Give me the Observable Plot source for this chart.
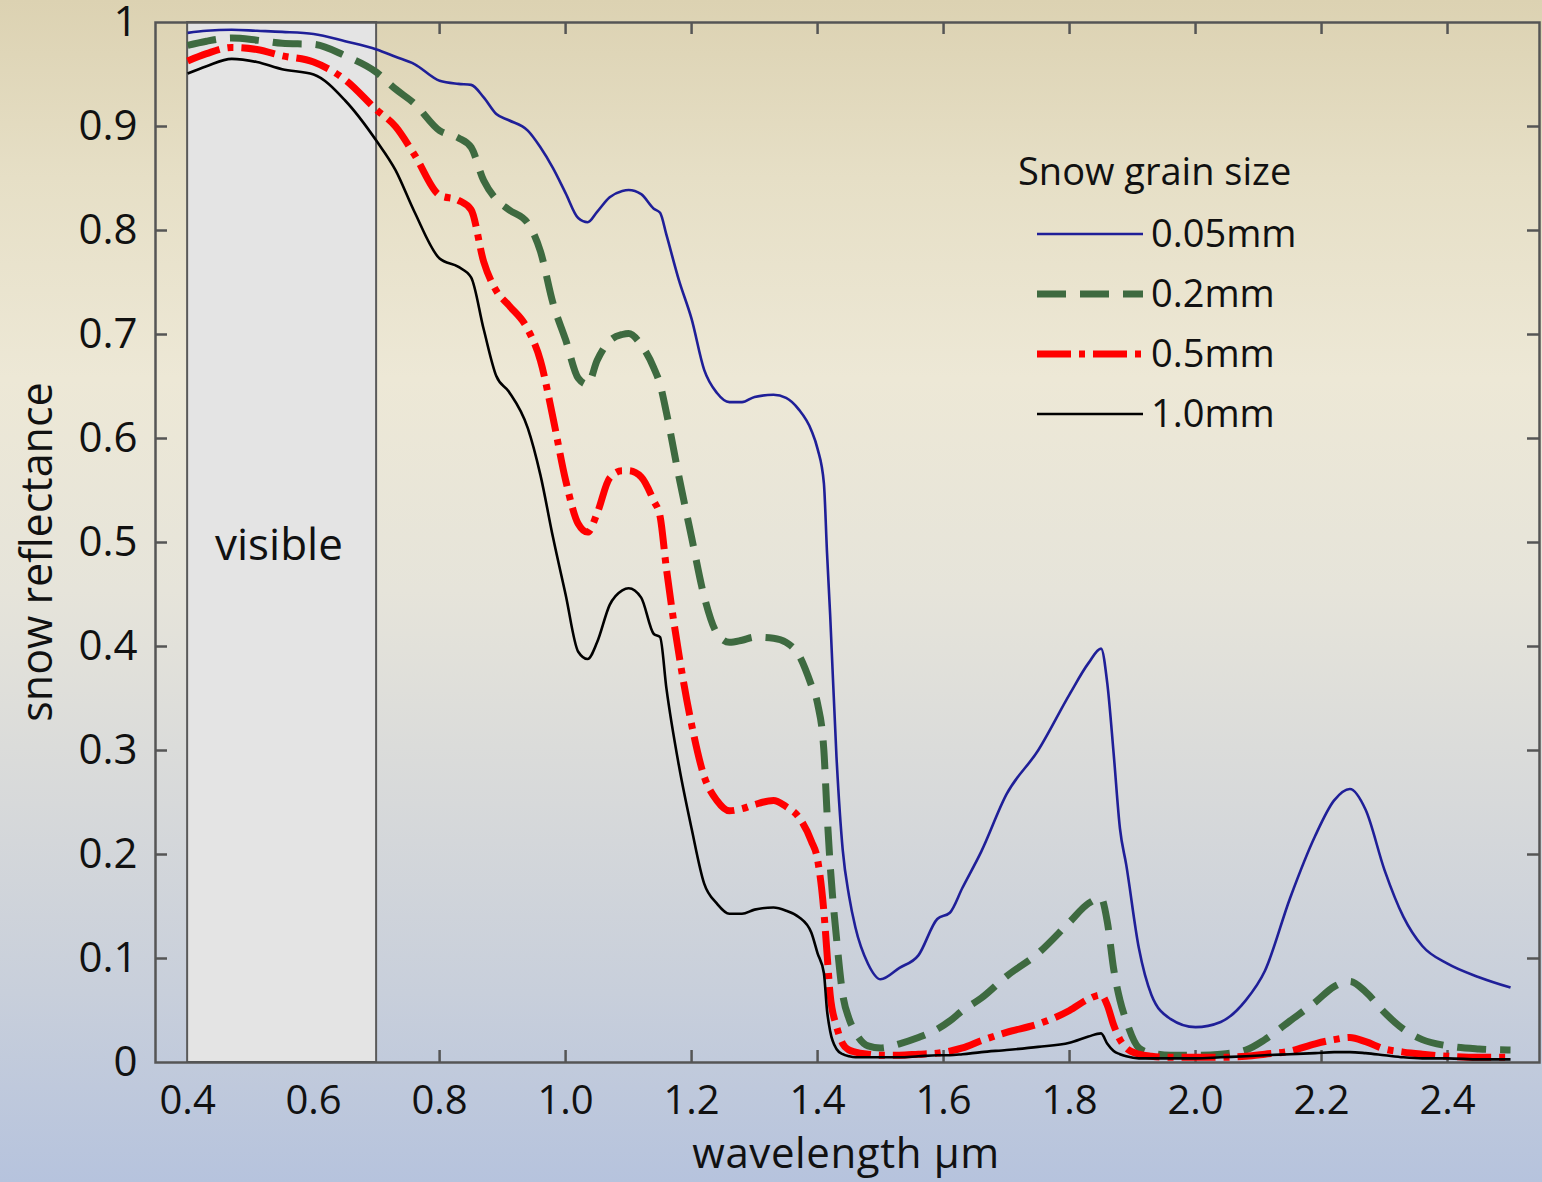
<!DOCTYPE html>
<html>
<head>
<meta charset="utf-8">
<script src="https://cdn.jsdelivr.net/npm/d3@7"></script>
<script src="https://cdn.jsdelivr.net/npm/@observablehq/plot@0.6"></script>
<style>
html, body { margin: 0; padding: 0; }
body {
  width: 1542px; height: 1182px; overflow: hidden;
  background: linear-gradient(to bottom, #dcd2b2 0%, #e6dfc6 15%, #ede8d6 32%, #e6e4da 50%, #d7d9da 68%, #c8cfdb 84%, #b6c3dd 100%);
  font-family: "Open Sans", sans-serif;
}
#wrap { position: relative; width: 1542px; height: 1182px; }
#chart { position: absolute; left: 0; top: 0; }
#overlay { position: absolute; left: 0; top: 0; }
</style>
</head>
<body>
<div id="wrap">
  <div id="chart"></div>
  <svg id="overlay" width="1542" height="1182"></svg>
</div>
<script>
// ---- data ----
const wavelength = [
  0.40, 0.43, 0.47, 0.51, 0.55, 0.60, 0.65, 0.70, 0.73, 0.76,
  0.80, 0.83, 0.85, 0.87, 0.89, 0.91, 0.94, 0.96, 0.98, 1.00,
  1.02, 1.035, 1.05, 1.07, 1.09, 1.10, 1.12, 1.14, 1.15, 1.16,
  1.18, 1.20, 1.22, 1.24, 1.26, 1.28, 1.30, 1.33, 1.35, 1.37,
  1.39, 1.40, 1.41, 1.415, 1.42, 1.43, 1.44, 1.45, 1.46, 1.48,
  1.50, 1.53, 1.56, 1.59, 1.61, 1.63, 1.66, 1.70, 1.75, 1.80,
  1.83, 1.85, 1.86, 1.87, 1.88, 1.89, 1.91, 1.93, 1.96, 2.00,
  2.04, 2.08, 2.11, 2.15, 2.19, 2.22, 2.245, 2.27, 2.30, 2.33,
  2.36, 2.40, 2.45, 2.50
];
const refl005 = [
  0.990, 0.992, 0.993, 0.992, 0.991, 0.989, 0.982, 0.974, 0.967, 0.960,
  0.944, 0.941, 0.940, 0.928, 0.912, 0.906, 0.896, 0.880, 0.860, 0.836,
  0.812, 0.808, 0.818, 0.832, 0.838, 0.839, 0.835, 0.821, 0.817, 0.796,
  0.752, 0.715, 0.666, 0.644, 0.635, 0.635, 0.640, 0.642, 0.639, 0.628,
  0.608, 0.590, 0.557, 0.490, 0.430, 0.294, 0.204, 0.160, 0.130, 0.095,
  0.080, 0.091, 0.103, 0.138, 0.144, 0.168, 0.203, 0.258, 0.300, 0.354,
  0.384, 0.398, 0.364, 0.297, 0.225, 0.190, 0.110, 0.065, 0.042, 0.034,
  0.039, 0.060, 0.088, 0.158, 0.218, 0.252, 0.263, 0.243, 0.185, 0.140,
  0.112, 0.095, 0.082, 0.072
];
const refl02 = [
  0.978, 0.982, 0.985, 0.983, 0.980, 0.979, 0.968, 0.952, 0.936, 0.922,
  0.896, 0.889, 0.880, 0.848, 0.830, 0.820, 0.807, 0.780, 0.730, 0.695,
  0.658, 0.652, 0.675, 0.694, 0.700, 0.701, 0.690, 0.668, 0.652, 0.625,
  0.563, 0.505, 0.448, 0.413, 0.404, 0.406, 0.409, 0.408, 0.404, 0.392,
  0.363, 0.345, 0.300, 0.240, 0.190, 0.120, 0.065, 0.042, 0.029, 0.016,
  0.014, 0.018, 0.024, 0.032, 0.040, 0.050, 0.062, 0.083, 0.105, 0.135,
  0.153, 0.158, 0.135, 0.090, 0.060, 0.040, 0.014, 0.009, 0.007, 0.007,
  0.008, 0.012, 0.022, 0.040, 0.058, 0.073, 0.078, 0.068, 0.048, 0.032,
  0.022, 0.016, 0.013, 0.012
];
const refl05 = [
  0.963, 0.970, 0.976, 0.974, 0.968, 0.962, 0.945, 0.916, 0.900, 0.873,
  0.834, 0.829, 0.820, 0.770, 0.742, 0.728, 0.705, 0.675, 0.620, 0.560,
  0.518, 0.510, 0.528, 0.562, 0.569, 0.569, 0.563, 0.540, 0.525, 0.475,
  0.392, 0.325, 0.275, 0.252, 0.242, 0.244, 0.248, 0.252, 0.246, 0.236,
  0.213, 0.195, 0.145, 0.105, 0.065, 0.035, 0.018, 0.012, 0.010, 0.008,
  0.007, 0.007, 0.008, 0.009, 0.011, 0.014, 0.021, 0.029, 0.037, 0.050,
  0.061, 0.065, 0.055, 0.036, 0.022, 0.014, 0.008, 0.006, 0.005, 0.005,
  0.005, 0.006, 0.008, 0.011, 0.018, 0.022, 0.024, 0.020, 0.013, 0.010,
  0.008, 0.006, 0.005, 0.005
];
const refl10 = [
  0.951, 0.958, 0.965, 0.962, 0.955, 0.950, 0.925, 0.886, 0.858, 0.818,
  0.773, 0.765, 0.755, 0.705, 0.660, 0.645, 0.610, 0.565, 0.505, 0.450,
  0.395, 0.388, 0.404, 0.440, 0.454, 0.456, 0.447, 0.412, 0.409, 0.360,
  0.285, 0.225, 0.172, 0.153, 0.143, 0.143, 0.147, 0.149, 0.146, 0.140,
  0.125, 0.105, 0.086, 0.050, 0.030, 0.013, 0.008, 0.006, 0.005, 0.005,
  0.005, 0.005, 0.006, 0.007, 0.007, 0.008, 0.010, 0.012, 0.015, 0.019,
  0.025, 0.028, 0.018, 0.011, 0.008, 0.006, 0.004, 0.004, 0.004, 0.004,
  0.005, 0.006, 0.007, 0.008, 0.009, 0.010, 0.010, 0.009, 0.007, 0.005,
  0.004, 0.004, 0.003, 0.003
];
const seriesNames = ["0.05mm", "0.2mm", "0.5mm", "1.0mm"];
const seriesValues = [refl005, refl02, refl05, refl10];
const xTicks = [0.4, 0.6, 0.8, 1.0, 1.2, 1.4, 1.6, 1.8, 2.0, 2.2, 2.4];
const yTicks = [0, 0.1, 0.2, 0.3, 0.4, 0.5, 0.6, 0.7, 0.8, 0.9, 1];
const visibleBand = [{x1: 0.4, x2: 0.7, label: "visible"}];
const xTitle = "wavelength µm";
const yTitle = "snow reflectance";
const legendTitle = "Snow grain size";

// ---- styles ----
const styles = [
  {stroke: "#1f1f98", strokeWidth: 2.6, dash: null},
  {stroke: "#3e6a40", strokeWidth: 7, dash: "29,14"},
  {stroke: "#ff0000", strokeWidth: 7, dash: "34,8,6,8"},
  {stroke: "#000000", strokeWidth: 2.6, dash: null}
];

const rows = [];
seriesNames.forEach((name, i) => {
  wavelength.forEach((w, j) => rows.push({series: name, w, r: seriesValues[i][j]}));
});

const W = 1542, H = 1182;
const mL = 155, mT = 22, mR = 3, mB = 120;
const frameW = W - mL - mR, frameH = H - mT - mB;
const tickLen = 12;
const axisColor = "#555";
const font = "'Open Sans', sans-serif";

const lineMarks = seriesNames.map((name, i) => Plot.line(rows.filter(d => d.series === name), {
  x: "w", y: "r", curve: "monotone-x",
  stroke: styles[i].stroke, strokeWidth: styles[i].strokeWidth,
  strokeDasharray: styles[i].dash, strokeLinecap: "butt", strokeLinejoin: "round"
}));

const innerX = xTicks.filter(d => d > 0.41);
const innerY = yTicks.filter(d => d > 0 && d < 1);

const chart = Plot.plot({
  width: W, height: H,
  marginLeft: mL, marginTop: mT, marginRight: mR, marginBottom: mB,
  style: {background: "transparent", fontFamily: font, color: "#111", overflow: "visible"},
  x: {domain: [0.349, 2.546]},
  y: {domain: [0, 1]},
  marks: [
    Plot.ruleX(innerX, {x: d => d, insetTop: frameH - tickLen, stroke: axisColor, strokeWidth: 2.5}),
    Plot.ruleX(innerX, {x: d => d, insetBottom: frameH - tickLen, stroke: axisColor, strokeWidth: 2.5}),
    Plot.ruleY(innerY, {y: d => d, insetRight: frameW - tickLen, stroke: axisColor, strokeWidth: 2.5}),
    Plot.ruleY(innerY, {y: d => d, insetLeft: frameW - tickLen, stroke: axisColor, strokeWidth: 2.5}),
    Plot.rect(visibleBand, {x1: "x1", x2: "x2", y1: 0, y2: 1, fill: "#e4e4e4", stroke: "#5a5a5a", strokeWidth: 2}),
    Plot.text(visibleBand, {x: d => (d.x1 + d.x2) / 2 - 0.005, y: 0.497, text: "label", fontSize: 44, fill: "#111"}),
    ...lineMarks,
    Plot.frame({stroke: axisColor, strokeWidth: 2.5}),
    Plot.axisX(xTicks, {tickSize: 0, tickPadding: 23, fontSize: 40, tickFormat: d => d.toFixed(1), label: null, fill: "#111"}),
    Plot.axisY(yTicks, {tickSize: 0, tickPadding: 18, fontSize: 42, tickFormat: d => (d === 0 || d === 1) ? String(d) : d.toFixed(1), label: null, fill: "#111"})
  ]
});
document.getElementById("chart").appendChild(chart);

// ---- axis titles and legend ----
const ov = d3.select("#overlay");
ov.append("text").attr("x", 846).attr("y", 1168).attr("text-anchor", "middle")
  .attr("font-size", 42).attr("letter-spacing", 0.6).attr("font-family", font).attr("fill", "#111").text(xTitle);
ov.append("text").attr("transform", "translate(52,552) rotate(-90)").attr("text-anchor", "middle")
  .attr("font-size", 43).attr("font-family", font).attr("fill", "#111").text(yTitle);

ov.append("text").attr("x", 1018).attr("y", 185).attr("font-size", 38)
  .attr("font-family", font).attr("fill", "#111").text(legendTitle);
seriesNames.forEach((name, i) => {
  const cy = 234 + i * 60;
  ov.append("line").attr("x1", 1037).attr("x2", 1143).attr("y1", cy).attr("y2", cy)
    .attr("stroke", styles[i].stroke).attr("stroke-width", styles[i].strokeWidth)
    .attr("stroke-dasharray", styles[i].dash).attr("stroke-linecap", "butt");
  ov.append("text").attr("x", 1151).attr("y", cy + 13).attr("font-size", 38)
    .attr("font-family", font).attr("fill", "#111").text(name);
});
</script>
</body>
</html>
